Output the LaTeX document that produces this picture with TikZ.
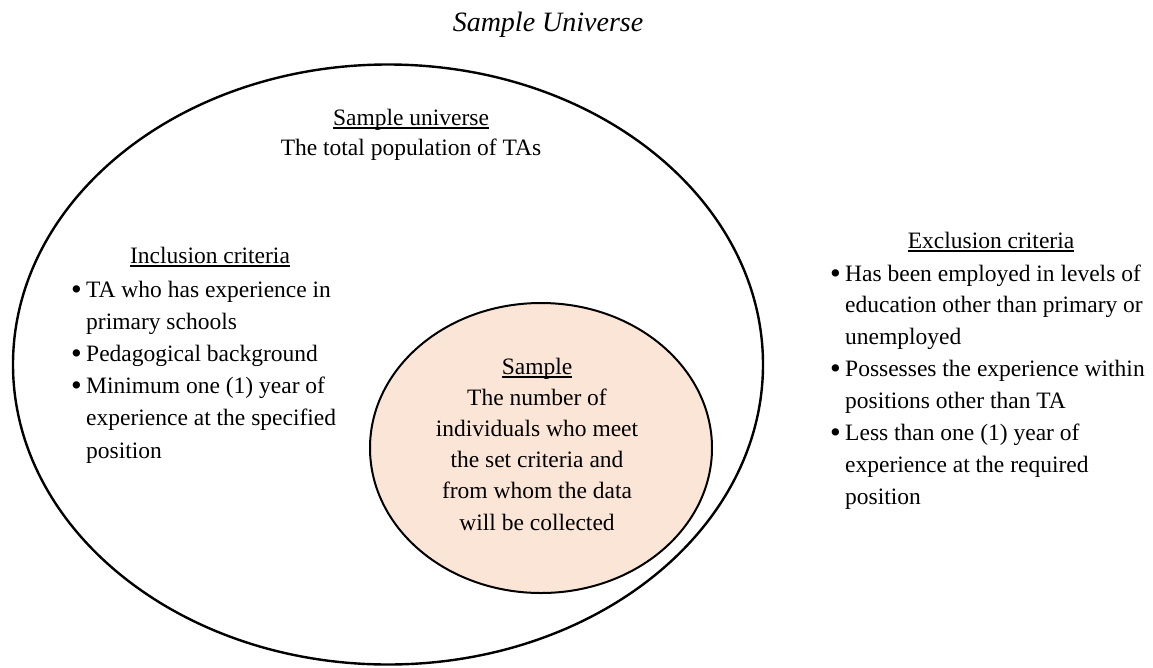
\documentclass[tikz,border=0pt]{standalone}
\usepackage{fontspec}
\setmainfont{Liberation Serif}
\usetikzlibrary{shapes.geometric}
\definecolor{peach}{HTML}{FBE5D6}
\newcommand{\ulin}[1]{\setbox0\hbox{#1}\rlap{\rule[-3.5pt]{\wd0}{1.2pt}}\box0}
\newcommand{\bl}{\makebox[15pt][l]{\raisebox{-0.09em}{\scalebox{1.3}{\textbullet}}}}
\newcommand{\ind}{\hspace*{15pt}}
\begin{document}
\begin{tikzpicture}[x=1pt,y=-1pt,
  body/.style={inner sep=0pt, anchor=base, font=\fontsize{23.5}{#1}\selectfont},
  ring/.style={ellipse, draw=black, line width=2.4pt, inner sep=0pt}]
\useasboundingbox (0,0) rectangle (1153,667);
\node[ring, minimum width=750pt, minimum height=600pt] (universe) at (388,364.5) {};
\node[ring, line width=2pt, fill=peach, minimum width=342pt, minimum height=290pt] (sample) at (541,448) {};
\node[anchor=base, inner sep=0pt, font=\fontsize{28}{34}\selectfont\itshape] (title) at (548,31) {Sample Universe};
\node[body=30.8] (univtext) at (411,125) {\begin{tabular}[t]{@{}c@{}}\ulin{Sample universe}\\The total population of TAs\end{tabular}};
\node[body=32] (inchead) at (210,263) {\ulin{Inclusion criteria}};
\node[body=32.2, anchor=base west] (inclist) at (71,297) {\begin{tabular}[t]{@{}l@{}}\bl TA who has experience in\\ \ind primary schools\\ \bl Pedagogical background\\ \bl Minimum one (1) year of\\ \ind experience at the specified\\ \ind position\end{tabular}};
\node[body=32] (exchead) at (991,248) {\ulin{Exclusion criteria}};
\node[body=31.9, anchor=base west] (exclist) at (830,281) {\begin{tabular}[t]{@{}l@{}}\bl Has been employed in levels of\\ \ind education other than primary or\\ \ind unemployed\\ \bl Possesses the experience within\\ \ind positions other than TA\\ \bl Less than one (1) year of\\ \ind experience at the required\\ \ind position\end{tabular}};
\node[body=31.2] (sampletext) at (537,374) {\begin{tabular}[t]{@{}c@{}}\ulin{Sample}\\The number of\\individuals who meet\\the set criteria and\\from whom the data\\will be collected\end{tabular}};
\end{tikzpicture}
\end{document}
